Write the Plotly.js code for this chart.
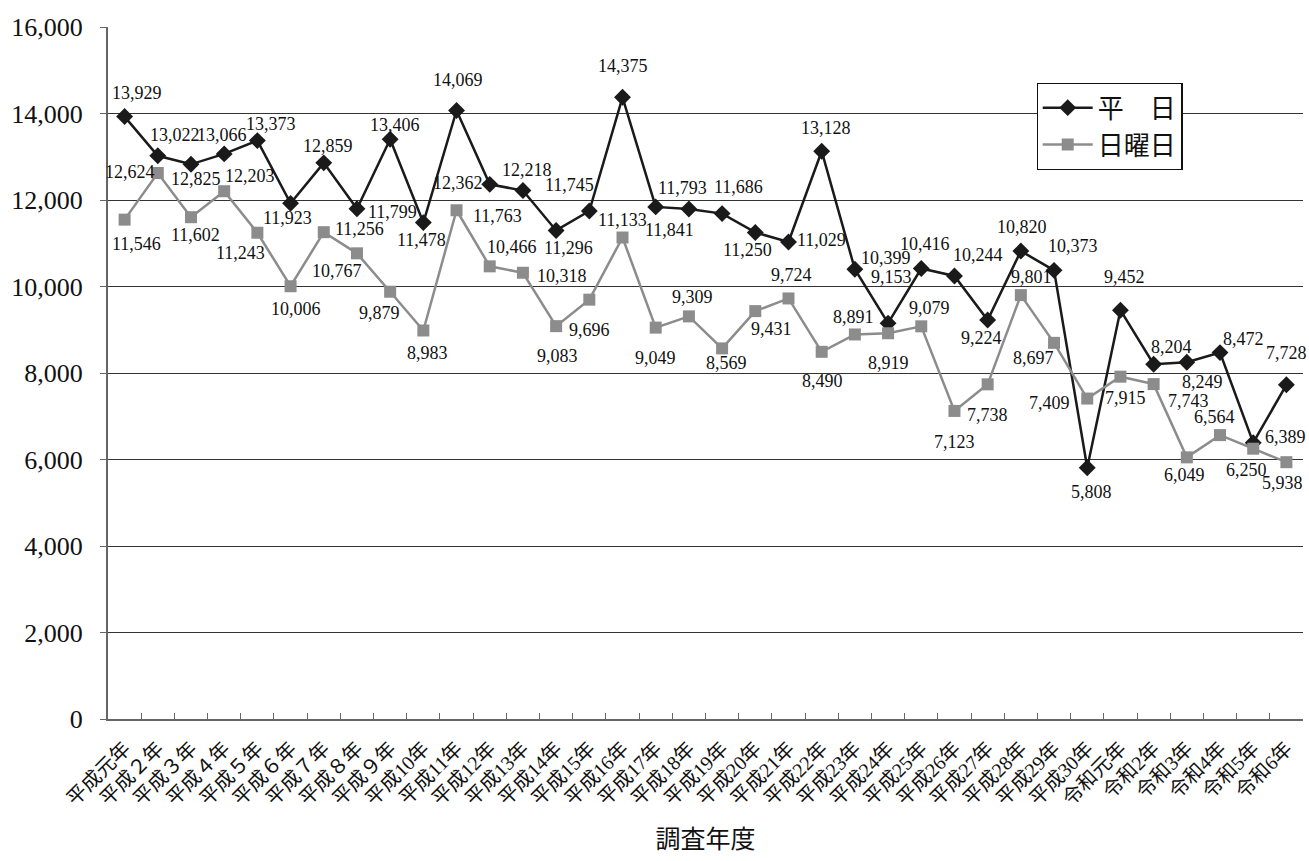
<!DOCTYPE html>
<html>
<head>
<meta charset="utf-8">
<script src="https://cdn.plot.ly/plotly-3.0.1.min.js"></script>
<style>
html,body{margin:0;padding:0;background:#fff;}
#chart{width:1309px;height:861px;}
</style>
</head>
<body>
<div id="chart"></div>
<script>
const categories = [
  "平成元年","平成２年","平成３年","平成４年","平成５年","平成６年","平成７年","平成８年","平成９年","平成10年",
  "平成11年","平成12年","平成13年","平成14年","平成15年","平成16年","平成17年","平成18年","平成19年","平成20年",
  "平成21年","平成22年","平成23年","平成24年","平成25年","平成26年","平成27年","平成28年","平成29年","平成30年",
  "令和元年","令和2年","令和3年","令和4年","令和5年","令和6年"
];
const weekday = [13929,13022,12825,13066,13373,11923,12859,11799,13406,11478,
  14069,12362,12218,11296,11745,14375,11841,11793,11686,11250,
  11029,13128,10399,9153,10416,10244,9224,10820,10373,5808,
  9452,8204,8249,8472,6389,7728];
const sunday = [11546,12624,11602,12203,11243,10006,11256,10767,9879,8983,
  11763,10466,10318,9083,9696,11133,9049,9309,8569,9431,
  9724,8490,8891,8919,9079,7123,7738,9801,8697,7409,
  7915,7743,6049,6564,6250,5938];
const seriesNames = ["平　日","日曜日"];
const yTicks = [0,2000,4000,6000,8000,10000,12000,14000,16000];

// label offsets (pixels, dx right, dy down) — placement only
const wdDx = [12,17,5,-2,14,-3,4,36,5,-2, 1,-32,4,12,-20,0,14,-6,16,-8, 33,4,31,3,4,24,-6,1,19,4, 4,18,16,23,32,0];
const wdDy = [-24,-21,15,-19,-17,15,-17,3,-14,17, -31,-1,-21,18,-26,-31,23,-21,-27,18, -2,-23,-11,-46,-25,-21,18,-24,-24,24, -33,-17,20,-14,-6,-32];
const suDx = [12,-28,5,26,-17,5,36,-20,-11,4, 41,22,39,1,0,0,0,4,4,16, 3,1,-1,0,8,0,0,11,-21,-38, 5,35,-2,-6,-7,-4];
const suDy = [24,-1,18,-15,20,23,-3,18,21,23, 6,-19,3,30,30,-18,30,-19,15,18, -23,29,-17,30,-18,31,31,-18,15,4, 21,17,18,-18,21,21];

const fam = "'Liberation Serif', 'Noto Sans CJK JP', serif";
const fmt = v => v.toLocaleString('en-US');

const traces = [
  {
    x: categories, y: weekday, name: seriesNames[0], type: 'scatter', mode: 'lines+markers',
    line: {color: '#1a1a1a', width: 2.5},
    marker: {symbol: 'diamond', size: 13, color: '#1a1a1a'},
    hoverinfo: 'skip'
  },
  {
    x: categories, y: sunday, name: seriesNames[1], type: 'scatter', mode: 'lines+markers',
    line: {color: '#8c8c8c', width: 2.5},
    marker: {symbol: 'square', size: 12, color: '#8c8c8c'},
    hoverinfo: 'skip'
  }
];

const annotations = [];
categories.forEach((c, i) => {
  annotations.push({x: i, y: weekday[i], xref: 'x', yref: 'y', text: fmt(weekday[i]), showarrow: false,
    xshift: wdDx[i], yshift: -wdDy[i], font: {family: fam, size: 18, color: '#111'}});
  annotations.push({x: i, y: sunday[i], xref: 'x', yref: 'y', text: fmt(sunday[i]), showarrow: false,
    xshift: suDx[i], yshift: -suDy[i], font: {family: fam, size: 18, color: '#111'}});
});

const layout = {
  width: 1309, height: 861,
  margin: {l: 108, r: 6, t: 27, b: 142},
  paper_bgcolor: '#fff', plot_bgcolor: '#fff',
  font: {family: fam, color: '#111'},
  showlegend: true,
  legend: {
    x: 0.777, y: 0.919, xanchor: 'left', yanchor: 'top',
    bgcolor: '#fff', bordercolor: '#111', borderwidth: 1.2,
    font: {family: fam, size: 26, color: '#111'},
    tracegroupgap: 6, itemwidth: 50
  },
  xaxis: {
    type: 'category',
    range: [-0.5, categories.length - 0.5],
    autorange: false,
    tickangle: -45,
    tickfont: {family: fam, size: 20, color: '#111'},
    ticklabelstandoff: 8,
    showgrid: false,
    showline: true, linecolor: '#666', linewidth: 2,
    ticks: 'inside', tickson: 'boundaries', ticklen: 6, tickcolor: '#666',
    title: {text: '調査年度', font: {family: "'Noto Sans CJK JP', serif", size: 25, color: '#111'}, standoff: 22},
    fixedrange: true
  },
  yaxis: {
    range: [0, 16000],
    autorange: false,
    tickvals: yTicks,
    ticktext: yTicks.map(fmt),
    tickfont: {family: fam, size: 26, color: '#111'},
    showgrid: true, gridcolor: '#333', gridwidth: 1,
    showline: true, linecolor: '#666', linewidth: 2,
    ticks: 'outside', ticklen: 6, tickcolor: '#666',
    ticklabelstandoff: 12,
    zeroline: false,
    fixedrange: true
  },
  annotations: annotations
};

Plotly.newPlot('chart', traces, layout, {displayModeBar: false, staticPlot: true});
</script>
</body>
</html>
